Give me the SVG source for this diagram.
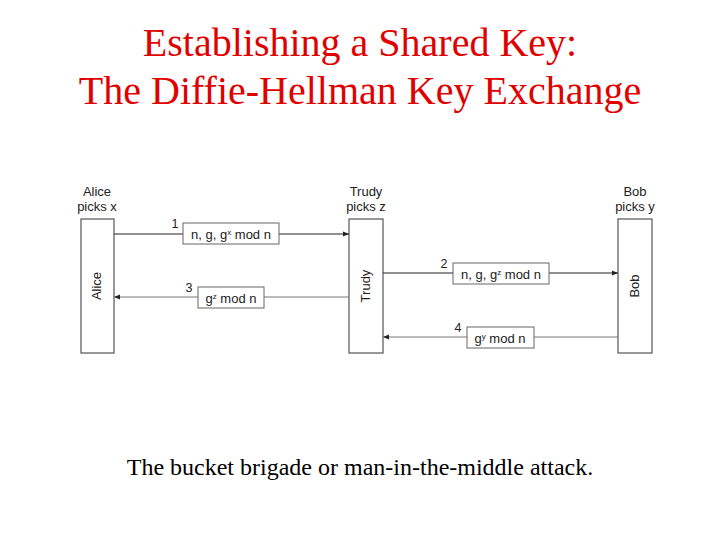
<svg xmlns="http://www.w3.org/2000/svg" width="720" height="540" viewBox="0 0 720 540">
<style>
.title{font-family:"Liberation Serif",serif;font-size:40px;fill:#e00000;text-anchor:middle}
.cap{font-family:"Liberation Serif",serif;font-size:24px;fill:#000;text-anchor:middle}
.lbl{font-family:"Liberation Sans",sans-serif;font-size:13px;fill:#222;text-anchor:middle}
.num{font-family:"Liberation Sans",sans-serif;font-size:12.5px;fill:#222;text-anchor:middle}
.party{fill:#fff;stroke:#555;stroke-width:1.2}
.msg{fill:#fff;stroke:#666;stroke-width:1}
.fwd{stroke:#222;stroke-width:1;fill:none}
.back{stroke:#777;stroke-width:1;fill:none}
</style>
<defs>
<marker id="ah" viewBox="0 0 10 10" refX="10" refY="5" markerWidth="10" markerHeight="6" orient="auto" markerUnits="userSpaceOnUse"><path d="M0,1 L10,5 L0,9 z" fill="#222"/></marker>
</defs>
<rect width="720" height="540" fill="#fff"/>
<text class="title" x="360" y="56">Establishing a Shared Key:</text>
<text class="title" x="360" y="104">The Diffie-Hellman Key Exchange</text>

<g id="alice">
<text class="lbl" x="97" y="196">Alice</text>
<text class="lbl" x="97" y="211">picks x</text>
<rect class="party" x="81" y="219" width="33" height="134"/>
<text class="lbl" transform="translate(101,286) rotate(-90)">Alice</text>
</g>
<g id="trudy">
<text class="lbl" x="366" y="196">Trudy</text>
<text class="lbl" x="366" y="211">picks z</text>
<rect class="party" x="349" y="219" width="34" height="134"/>
<text class="lbl" transform="translate(370,286) rotate(-90)">Trudy</text>
</g>
<g id="bob">
<text class="lbl" x="635" y="196">Bob</text>
<text class="lbl" x="635" y="211">picks y</text>
<rect class="party" x="618" y="219" width="34" height="134"/>
<text class="lbl" transform="translate(639,286) rotate(-90)">Bob</text>
</g>

<g id="connectors">
<line class="fwd" x1="114" y1="234" x2="349" y2="234" marker-end="url(#ah)"/>
<line class="fwd" x1="383" y1="273" x2="618" y2="273" marker-end="url(#ah)"/>
<line class="back" x1="349" y1="297" x2="114" y2="297" marker-end="url(#ah)"/>
<line class="back" x1="618" y1="337" x2="383" y2="337" marker-end="url(#ah)"/>
</g>

<g id="msg1">
<rect class="msg" x="183" y="223" width="96" height="21"/>
<text class="lbl" x="231" y="238.5">n, g, g<tspan font-size="8" dy="-4">x</tspan><tspan dy="4"> mod n</tspan></text>
<text class="num" x="175" y="228">1</text>
</g>
<g id="msg2">
<rect class="msg" x="453" y="263" width="96" height="21"/>
<text class="lbl" x="501" y="278.5">n, g, g<tspan font-size="8" dy="-4">z</tspan><tspan dy="4"> mod n</tspan></text>
<text class="num" x="444" y="268">2</text>
</g>
<g id="msg3">
<rect class="msg" x="198" y="287" width="66" height="21"/>
<text class="lbl" x="231" y="302.5">g<tspan font-size="8" dy="-4">z</tspan><tspan dy="4"> mod n</tspan></text>
<text class="num" x="189" y="292">3</text>
</g>
<g id="msg4">
<rect class="msg" x="467" y="327" width="67" height="21"/>
<text class="lbl" x="500" y="342.5">g<tspan font-size="8" dy="-4">y</tspan><tspan dy="4"> mod n</tspan></text>
<text class="num" x="458" y="332">4</text>
</g>

<text class="cap" x="360" y="475">The bucket brigade or man-in-the-middle attack.</text>
</svg>
